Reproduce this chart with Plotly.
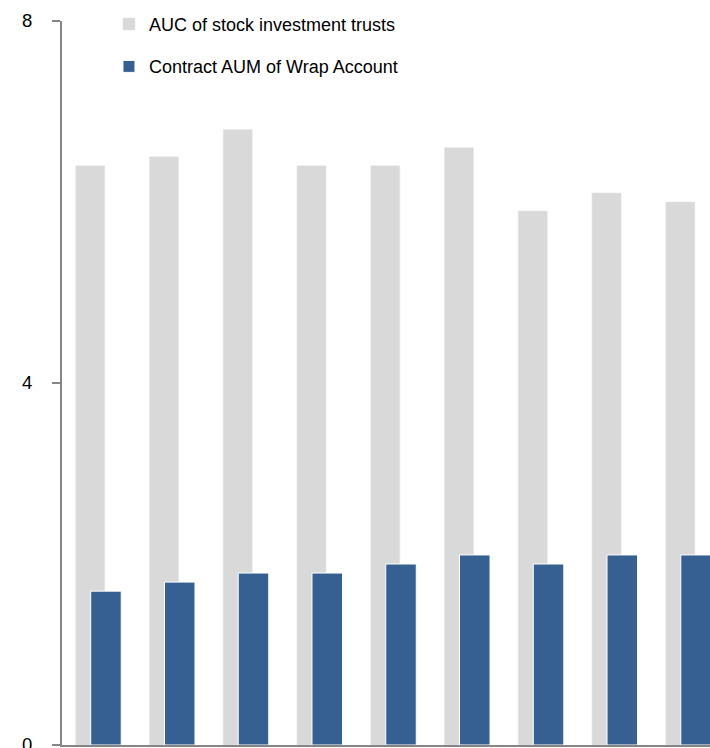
import plotly.graph_objects as go

# Bar values (trillion yen scale 0-8), one per period
periods = list(range(9))
auc_stock_trusts = [6.4, 6.5, 6.8, 6.4, 6.4, 6.6, 5.9, 6.1, 6.0]
wrap_contract_aum = [1.7, 1.8, 1.9, 1.9, 2.0, 2.1, 2.0, 2.1, 2.1]
y_ticks = [0, 4, 8]

GREY = "#d9d9d9"
BLUE = "#366092"
AXIS = "#868686"
FONT = "Liberation Sans, Arial, sans-serif"

fig = go.Figure()

fig.add_trace(go.Bar(
    x=periods, y=auc_stock_trusts,
    name="AUC of stock investment trusts",
    legendgroup="a",
    marker=dict(color=GREY, line=dict(color="#e4e4e4", width=0.6)),
    width=0.393, offset=-0.314,
))
fig.add_trace(go.Bar(
    x=periods, y=wrap_contract_aum,
    name="Contract AUM of Wrap Account",
    legendgroup="b",
    marker=dict(color=BLUE, line=dict(color="white", width=1)),
    width=0.414, offset=-0.111,
))

fig.update_layout(
    width=710, height=748,
    margin=dict(l=62, r=0, t=21, b=3, autoexpand=False),
    barmode="overlay",
    plot_bgcolor="white", paper_bgcolor="white",
    font=dict(family=FONT, size=18, color="black"),
    showlegend=True,
    legend=dict(
        x=0.0725, xanchor="left", y=1.021, yanchor="top",
        bgcolor="rgba(0,0,0,0)",
        font=dict(family=FONT, size=18, color="black"),
        traceorder="grouped", tracegroupgap=16,
        itemwidth=30,
    ),
    xaxis=dict(
        range=[-0.5, 8.285],
        showticklabels=False, ticks="",
        showgrid=False, zeroline=False,
        showline=True, linecolor=AXIS, linewidth=2,
        automargin=False,
    ),
    yaxis=dict(
        range=[0, 8], tickvals=y_ticks,
        ticks="outside", ticklen=8, tickwidth=2, tickcolor=AXIS,
        ticklabelstandoff=16,
        ticklabeloverflow="allow",
        showgrid=False, zeroline=False,
        showline=True, linecolor=AXIS, linewidth=2,
        automargin=False,
        tickfont=dict(family=FONT, size=18.5, color="black"),
    ),
)

fig.write_html("out.html")
